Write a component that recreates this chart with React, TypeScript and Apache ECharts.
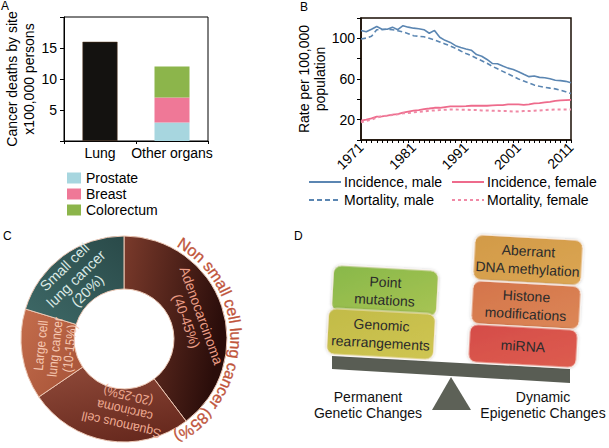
import React, { useEffect, useRef } from 'react';
import * as echarts from 'echarts';

// ---------- Panel A data ----------
const barCategories = ['Lung', 'Other organs'];
const lungDeaths = [16, null];
const prostateDeaths = [null, 3];
const breastDeaths = [null, 4];
const colorectumDeaths = [null, 5];
const barShownTicks = [5, 10, 15];

// ---------- Panel B data ----------
const years = ['1971','1972','1973','1974','1975','1976','1977','1978','1979','1980',
  '1981','1982','1983','1984','1985','1986','1987','1988','1989','1990',
  '1991','1992','1993','1994','1995','1996','1997','1998','1999','2000',
  '2001','2002','2003','2004','2005','2006','2007','2008','2009','2010','2011'];
const incidenceMale = [107.8,106.5,109,111.7,109,109,111,108.5,112.4,111,
  110,109.4,108.5,105,107.8,101,98,96,92.8,91,
  89.6,88.3,84,82.4,79.2,75.3,75,72.7,70.7,69.4,
  67.2,64.6,62.3,63,61.6,61.3,60.3,58.7,58.4,57.7,56.4];
const mortalityMale = [99.3,100.3,102,108.5,108.5,109,108.5,107.5,106.3,104.6,
  102.6,102,101.5,100,98.5,96.5,94.5,92.5,90.3,87.5,
  85,83,80.5,78,75.5,72.5,70,67.5,65,62.5,
  60,58,56,54,52.8,51.8,51,50.3,49,47.5,45.7];
const incidenceFemale = [19,20,21.3,23,23.3,24,25,25.5,27,28,
  28.8,29.4,30.4,31,31.7,31.7,32.4,33,33,33,
  33.3,33.7,33.7,33.7,33.7,34,34.3,34.3,35,35,
  35,34.6,35,36,36.3,37,37.6,38.5,38.9,39.2,39.5];
const mortalityFemale = [17.4,18.7,20,22,23.3,24,24.6,25.2,26.2,26.5,
  27.2,27.8,28.1,28.8,29.1,29.4,29.8,30,30,29.8,
  29.8,29.4,29.4,29.1,29.1,28.8,28.8,28.5,28.5,28.1,
  28.1,28.5,28.5,28.8,29.1,29.4,29.8,30,30,30,30];
const rateShownTicks = [20, 60, 100];

// ---------- Panel C data ----------
const subtypeLabels = ['Adenocarcinoma\n(40-45%)', 'Squamous cell\ncarcinoma\n(20-25%)', 'Large cell\nlung cancer\n(10-15%)', 'Small cell\nlung cancer\n(20%)'];
const subtypeShares = [39.7, 25.8, 14.2, 20.3];
const nsclcLabel = 'Non small cell lung cancer (85%)';

// ---------- Panel D data ----------
const geneticChanges = ['Point\nmutations', 'Genomic\nrearrangements'];
const epigeneticChanges = ['Aberrant\nDNA methylation', 'Histone\nmodifications', 'miRNA'];
const sideLabels = ['Permanent\nGenetic Changes', 'Dynamic\nEpigenetic Changes'];

const FONT = '"Liberation Sans", Arial, Helvetica, sans-serif';

export default function App() {
  const ref = useRef<HTMLDivElement>(null);
  useEffect(() => {
    const chart = echarts.init(ref.current!, null, { renderer: 'svg' });
    const lg = (x: number, y: number, x2: number, y2: number, c0: string, c1: string) =>
      new echarts.graphic.LinearGradient(x, y, x2, y2, [{ offset: 0, color: c0 }, { offset: 1, color: c1 }]);

    // pie layout constants
    const PCX = 124, PCY = 339, PR0 = 50, PR = 103;

    // curved outer text, one glyph at a time along an arc
    const arcFont = 16;
    const cv = document.createElement('canvas').getContext('2d')!;
    cv.font = `${arcFont}px "Liberation Sans"`;
    const chars = Array.from(nsclcLabel);
    const widths = chars.map((c) => cv.measureText(c).width * 1.03);
    const total = widths.reduce((a, b) => a + b, 0);
    const arcR = 112;
    const mid = (91 * Math.PI) / 180;
    const startA = mid - total / arcR / 2;
    let cum = 0;
    const arcChars = chars.map((ch, i) => {
      const a = startA + (cum + widths[i] / 2) / arcR;
      cum += widths[i];
      return {
        type: 'text',
        x: PCX + arcR * Math.sin(a),
        y: PCY - arcR * Math.cos(a),
        rotation: -a,
        silent: true,
        z: 10,
        style: { text: ch, fill: '#c0553b', fontSize: arcFont, fontFamily: FONT, align: 'center', verticalAlign: 'middle', stroke: '#c0553b', lineWidth: 0.3 },
      };
    });

    // labels inside the ring, anchored at each slice's mid angle (from the data)
    const pieLabelColors = ['#eb9d86', '#eeaa92', '#f6c8b2', '#dbe9e5'];
    const pieLabelRot = [-70, 167, 84, 44];
    const pieLabelSize = [14, 13, 13.5, 14.5];
    const pieLabelLine = [16, 15, 14.5, 16.5];
    const pieLabelScaleX = [0.98, 0.95, 0.86, 1];
    const pieLabelShift = [2, -10, 2, -2];
    const pieLabelR = [73, 71, 69, 77];
    const shareTotal = subtypeShares.reduce((a, b) => a + b, 0);
    let acc = 0;
    const pieLabels = subtypeLabels.map((t, i) => {
      const deg = ((acc + subtypeShares[i] / 2) / shareTotal) * 360 + pieLabelShift[i];
      acc += subtypeShares[i];
      const a = (deg * Math.PI) / 180;
      return {
        type: 'text',
        x: PCX + pieLabelR[i] * Math.sin(a),
        y: PCY - pieLabelR[i] * Math.cos(a),
        rotation: (pieLabelRot[i] * Math.PI) / 180,
        scaleX: pieLabelScaleX[i],
        silent: true,
        z: 10,
        style: { text: t, align: 'center', verticalAlign: 'middle', fontSize: pieLabelSize[i], lineHeight: pieLabelLine[i], fontFamily: FONT, fill: pieLabelColors[i] },
      };
    });

    const box = (cx: number, cy: number, w: number, h: number, c0: string, c1: string, text: string) => ({
      type: 'group',
      x: cx,
      y: cy,
      rotation: -0.055,
      children: [
        {
          type: 'rect',
          shape: { x: -w / 2, y: -h / 2, width: w, height: h, r: 8 },
          style: { fill: lg(0, 0, 1, 1, c0, c1), stroke: 'rgba(255,240,230,0.8)', lineWidth: 1, shadowBlur: 3, shadowColor: 'rgba(0,0,0,0.25)' },
        },
        {
          type: 'text',
          x: 0,
          y: 0,
          style: { text, align: 'center', verticalAlign: 'middle', fontSize: 14, fontFamily: FONT, fill: '#2b2b2b', lineHeight: 18 },
        },
      ],
    });

    const pieColors = [
      lg(0, 0, 1, 0.3, '#7a3a2b', '#2a0d0a'),
      lg(0.3, 0, 0.7, 1, '#8c4737', '#66281d'),
      lg(0, 0, 1, 1, '#c46d4c', '#a55237'),
      lg(0, 1, 1, 0, '#3e6967', '#2a4a49'),
    ];

    const option: any = {
      animation: false,
      backgroundColor: '#fff',
      textStyle: { fontFamily: FONT },
      grid: [
        { left: 64, top: 17, width: 144, height: 124, show: true, borderColor: '#000', borderWidth: 1, backgroundColor: 'transparent' },
        { left: 361, top: 18, width: 210, height: 122, show: true, borderColor: '#1a0e04', borderWidth: 1.5, backgroundColor: 'transparent' },
      ],
      xAxis: [
        {
          gridIndex: 0,
          type: 'category',
          data: barCategories,
          axisLine: { lineStyle: { color: '#000', width: 1 } },
          axisTick: { show: true, length: 3, lineStyle: { color: '#000' } },
          axisLabel: { color: '#000', fontSize: 14, margin: 5, interval: 0, fontFamily: FONT },
        },
        {
          gridIndex: 1,
          type: 'category',
          data: years,
          boundaryGap: false,
          axisLine: { lineStyle: { color: '#1a0e04', width: 1.5 } },
          axisTick: { show: true, interval: 0, length: 3, lineStyle: { color: '#000' } },
          axisLabel: { color: '#000', fontSize: 14, rotate: 45, interval: 9, margin: 5, fontFamily: FONT },
        },
      ],
      yAxis: [
        {
          gridIndex: 0,
          type: 'value',
          min: 0,
          max: 20,
          interval: 5,
          splitLine: { show: false },
          axisLine: { show: true, lineStyle: { color: '#000', width: 1 } },
          axisTick: { show: true, length: 4, lineStyle: { color: '#000' } },
          axisLabel: {
            color: '#000', fontSize: 14, margin: 7, fontFamily: FONT,
            formatter: (v: number) => (barShownTicks.includes(v) ? String(v) : ''),
          },
          name: 'Cancer deaths by site\nx100,000 persons',
          nameLocation: 'middle',
          nameGap: 26,
          nameTextStyle: { color: '#000', fontSize: 14, lineHeight: 17, fontFamily: FONT },
        },
        {
          gridIndex: 1,
          type: 'value',
          min: 0,
          max: 120,
          interval: 20,
          splitLine: { show: false },
          axisLine: { show: true, lineStyle: { color: '#1a0e04', width: 1.5 } },
          axisTick: { show: true, length: 4, lineStyle: { color: '#000' } },
          axisLabel: {
            color: '#000', fontSize: 14, margin: 6, fontFamily: FONT,
            formatter: (v: number) => (rateShownTicks.includes(v) ? String(v) : ''),
          },
          name: 'Rate per 100,000\npopulation',
          nameLocation: 'middle',
          nameGap: 28,
          nameTextStyle: { color: '#000', fontSize: 14, lineHeight: 16, fontFamily: FONT },
        },
      ],
      legend: [
        {
          data: ['Prostate', 'Breast', 'Colorectum'],
          orient: 'vertical',
          left: 67,
          top: 170,
          padding: 0,
          itemGap: 0,
          itemWidth: 14,
          itemHeight: 11,
          icon: 'rect',
          textStyle: { color: '#000', fontSize: 14, fontFamily: FONT, lineHeight: 16 },
          selectedMode: false,
        },
        {
          data: ['Incidence, male', 'Mortality, male'],
          orient: 'vertical',
          left: 308,
          top: 175,
          padding: 0,
          itemGap: 4,
          itemWidth: 32,
          itemHeight: 14,
          itemStyle: { color: 'transparent', borderWidth: 0, opacity: 0 },
          textStyle: { color: '#000', fontSize: 14, fontFamily: FONT, padding: [0, 0, 0, -2] },
          selectedMode: false,
        },
        {
          data: ['Incidence, female', 'Mortality, female'],
          orient: 'vertical',
          left: 451,
          top: 175,
          padding: 0,
          itemGap: 4,
          itemWidth: 32,
          itemHeight: 14,
          itemStyle: { color: 'transparent', borderWidth: 0, opacity: 0 },
          textStyle: { color: '#000', fontSize: 14, fontFamily: FONT, padding: [0, 0, 0, -2] },
          selectedMode: false,
        },
      ],
      series: [
        { name: 'Lung', type: 'bar', xAxisIndex: 0, yAxisIndex: 0, stack: 'a', barWidth: 35, data: lungDeaths, itemStyle: { color: '#141210', borderColor: '#5a3a20', borderWidth: 0.5 } },
        { name: 'Prostate', type: 'bar', xAxisIndex: 0, yAxisIndex: 0, stack: 'a', barWidth: 35, data: prostateDeaths, itemStyle: { color: '#a7d6df' } },
        { name: 'Breast', type: 'bar', xAxisIndex: 0, yAxisIndex: 0, stack: 'a', barWidth: 35, data: breastDeaths, itemStyle: { color: '#ef7897' } },
        { name: 'Colorectum', type: 'bar', xAxisIndex: 0, yAxisIndex: 0, stack: 'a', barWidth: 35, data: colorectumDeaths, itemStyle: { color: '#8cb54b' } },
        { name: 'Incidence, male', type: 'line', xAxisIndex: 1, yAxisIndex: 1, data: incidenceMale, symbol: 'none', color: '#5b86b2', lineStyle: { width: 1.6, color: '#5b86b2' } },
        { name: 'Mortality, male', type: 'line', xAxisIndex: 1, yAxisIndex: 1, data: mortalityMale, symbol: 'none', color: '#5b86b2', lineStyle: { width: 1.6, color: '#5b86b2', type: [5, 3] } },
        { name: 'Incidence, female', type: 'line', xAxisIndex: 1, yAxisIndex: 1, data: incidenceFemale, symbol: 'none', color: '#ee6b8c', lineStyle: { width: 1.8, color: '#ee6b8c' } },
        { name: 'Mortality, female', type: 'line', xAxisIndex: 1, yAxisIndex: 1, data: mortalityFemale, symbol: 'none', color: '#f08aa6', lineStyle: { width: 2, color: '#f08aa6', type: [3, 3] } },
        {
          name: 'Lung cancer subtypes',
          type: 'pie',
          center: [PCX, PCY],
          radius: [PR0, PR],
          startAngle: 90,
          clockwise: true,
          avoidLabelOverlap: false,
          silent: true,
          labelLine: { show: false },
          label: { show: false },
          itemStyle: { borderColor: '#ecc7b4', borderWidth: 1 },
          data: subtypeLabels.map((name, i) => ({
            name,
            value: subtypeShares[i],
            itemStyle: { color: pieColors[i] },
          })),
        },
      ],
      graphic: [
        { type: 'text', left: 1, top: 0, style: { text: 'A', fontSize: 12, fontFamily: FONT, fill: '#000' } },
        { type: 'text', left: 300, top: 1, style: { text: 'B', fontSize: 12, fontFamily: FONT, fill: '#000' } },
        { type: 'text', left: 3, top: 230, style: { text: 'C', fontSize: 12, fontFamily: FONT, fill: '#000' } },
        { type: 'text', left: 294, top: 230, style: { text: 'D', fontSize: 12, fontFamily: FONT, fill: '#000' } },
        ...pieLabels,
        ...arcChars,
        // balance beam
        { type: 'polygon', shape: { points: [[332, 356], [570, 369], [570, 383], [332, 369]] }, style: { fill: '#595d54' } },
        { type: 'polygon', shape: { points: [[451, 377], [432, 410], [471, 410]] }, style: { fill: '#5d6157' } },
        box(385, 291, 105, 46, '#88b84a', '#a8c453', geneticChanges[0]),
        box(381, 334, 107, 46, '#c2bb48', '#cfc552', geneticChanges[1]),
        box(528, 260, 108, 45, '#d29a48', '#dba653', epigeneticChanges[0]),
        box(526, 305, 108, 43, '#d4744b', '#dc8756', epigeneticChanges[1]),
        box(523, 346, 108, 38, '#d54c49', '#dd5d4f', epigeneticChanges[2]),
        { type: 'text', x: 368, y: 405, style: { text: sideLabels[0], align: 'center', verticalAlign: 'middle', fontSize: 14, lineHeight: 16, fontFamily: FONT, fill: '#111' } },
        { type: 'text', x: 543, y: 405, style: { text: sideLabels[1], align: 'center', verticalAlign: 'middle', fontSize: 14, lineHeight: 16, fontFamily: FONT, fill: '#111' } },
      ],
    };
    chart.setOption(option);
    return () => chart.dispose();
  }, []);
  return <div ref={ref} style={{ position: 'fixed', left: 0, top: 0, width: 609, height: 448, background: '#fff' }} />;
}
